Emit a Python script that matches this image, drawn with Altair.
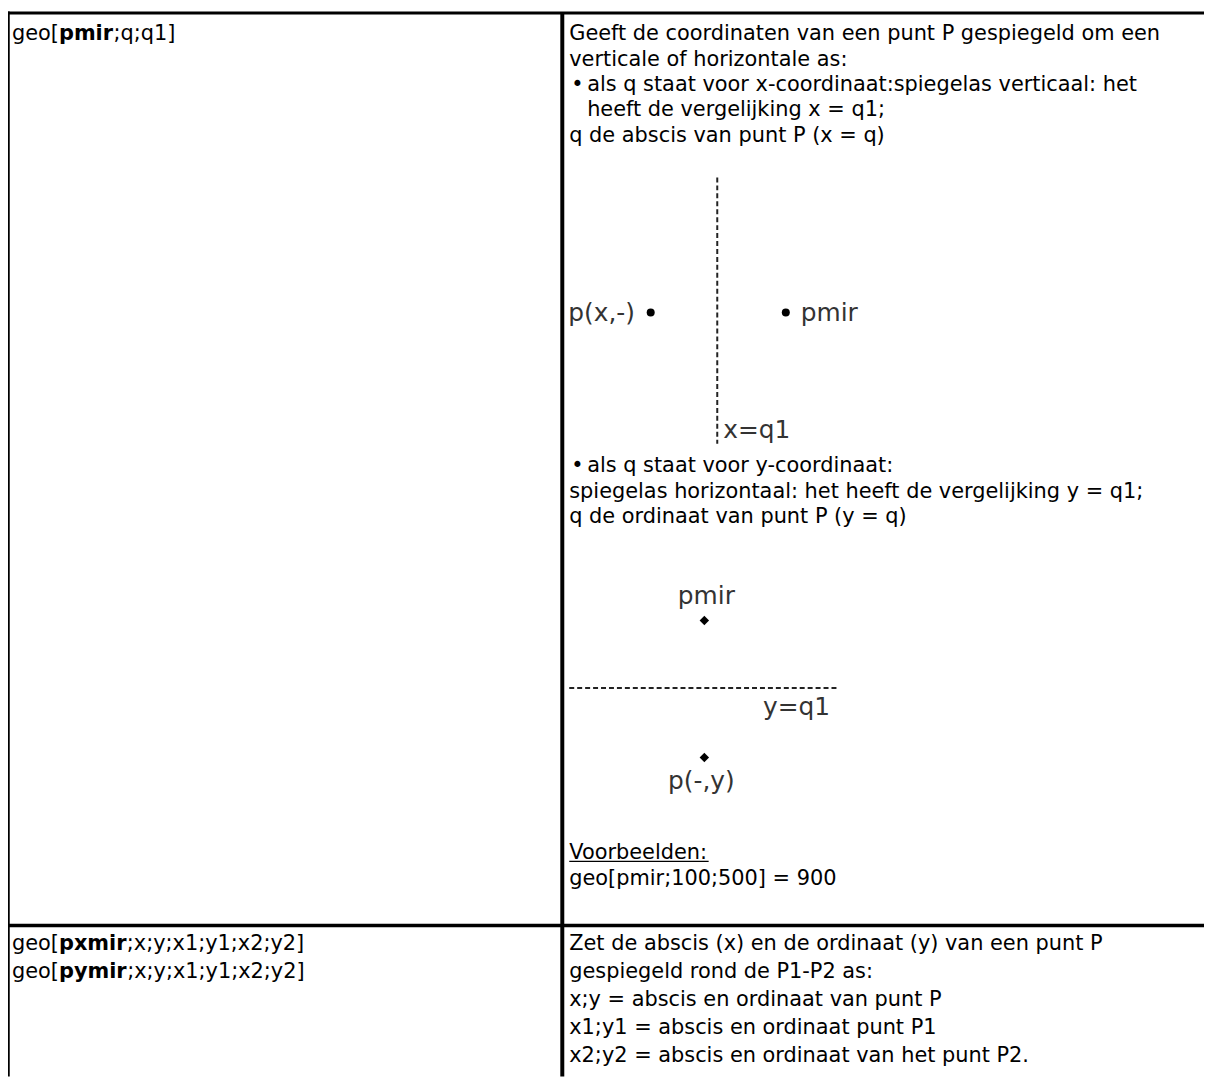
import altair as alt
import pandas as pd

# ---------------- content (text of the table) ----------------
left_row1 = [("geo[", "pmir", ";q;q1]")]
left_row2 = [("geo[", "pxmir", ";x;y;x1;y1;x2;y2]"),
             ("geo[", "pymir", ";x;y;x1;y1;x2;y2]")]

r1_intro = ["Geeft de coordinaten van een punt P gespiegeld om een",
            "verticale of horizontale as:"]
r1_bullet1 = ["als q staat voor x-coordinaat:spiegelas verticaal: het",
              "heeft de vergelijking x = q1;"]
r1_after1 = ["q de abscis van punt P (x = q)"]
r1_bullet2 = ["als q staat voor y-coordinaat:"]
r1_after2 = ["spiegelas horizontaal: het heeft de vergelijking y = q1;",
             "q de ordinaat van punt P (y = q)"]
example_head = "Voorbeelden:"
example_lines = ["geo[pmir;100;500] = 900"]

r2_lines = ["Zet de abscis (x) en de ordinaat (y) van een punt P",
            "gespiegeld rond de P1-P2 as:",
            "x;y = abscis en ordinaat van punt P",
            "x1;y1 = abscis en ordinaat punt P1",
            "x2;y2 = abscis en ordinaat van het punt P2."]

diag1_labels = ["p(x,-)", "pmir", "x=q1"]
diag2_labels = ["pmir", "y=q1", "p(-,y)"]

# ---------------- layout (page pixels) ----------------
W, H = 1212, 1080
FS = 21            # body font size
DFS = 25           # diagram font size
LH1 = 25.5         # line height, first row
LH2 = 28           # line height, second row
TOP = 9.5
LEFT_X = 8.5
COL_X = 566
ROW_Y = 928
LX = 12            # left column text start
RX = 573           # right column text start
BX = 575           # bullet x
IX = 591           # indented text x

# DejaVu Sans advance widths (units per 2048 em) for segment placement
REG = {'g': 1300, 'e': 1260, 'o': 1253, '[': 799, 'V': 1401, 'r': 842,
       'b': 1300, 'l': 569, 'd': 1300, 'n': 1298, ':': 690}
BOLD = {'p': 1466, 'm': 2134, 'i': 702, 'r': 1010, 'x': 1300, 'y': 1335}


def tw(s, table, size):
    return sum(table[c] for c in s) / 2048 * size


reg_rows, bold_rows = [], []


def add_seg_line(segs, x0, y):
    pre, bold, post = segs
    w1 = tw(pre, REG, FS)
    w2 = tw(bold, BOLD, FS)
    reg_rows.append({"x": x0, "y": y, "t": pre})
    bold_rows.append({"x": x0 + w1, "y": y, "t": bold})
    reg_rows.append({"x": x0 + w1 + w2 + 0.5, "y": y, "t": post})


# left column
base1 = 37
for i, segs in enumerate(left_row1):
    add_seg_line(segs, LX, base1 + i * LH1)
base2 = 953
for i, segs in enumerate(left_row2):
    add_seg_line(segs, LX, base2 + i * LH2)

# right column, row 1
y = base1
for t in r1_intro:
    reg_rows.append({"x": RX, "y": y, "t": t}); y += LH1
reg_rows.append({"x": BX, "y": y, "t": "\u2022"})
for t in r1_bullet1:
    reg_rows.append({"x": IX, "y": y, "t": t}); y += LH1
for t in r1_after1:
    reg_rows.append({"x": RX, "y": y, "t": t}); y += LH1

y = 472
reg_rows.append({"x": BX, "y": y, "t": "\u2022"})
for t in r1_bullet2:
    reg_rows.append({"x": IX, "y": y, "t": t}); y += LH1
for t in r1_after2:
    reg_rows.append({"x": RX, "y": y, "t": t}); y += LH1

ex_y = 861
reg_rows.append({"x": RX, "y": ex_y, "t": example_head})
for i, t in enumerate(example_lines):
    reg_rows.append({"x": RX, "y": ex_y + (i + 1) * 26, "t": t})

# right column, row 2
for i, t in enumerate(r2_lines):
    reg_rows.append({"x": RX, "y": base2 + i * LH2, "t": t})

reg_df = pd.DataFrame(reg_rows)
bold_df = pd.DataFrame(bold_rows)

# diagram labels
diag_df = pd.DataFrame([
    {"x": 572, "y": 320, "t": diag1_labels[0], "a": "left"},
    {"x": 806, "y": 320, "t": diag1_labels[1], "a": "left"},
    {"x": 728, "y": 437, "t": diag1_labels[2], "a": "left"},
    {"x": 711, "y": 604, "t": diag2_labels[0], "a": "center"},
    {"x": 768, "y": 716, "t": diag2_labels[1], "a": "left"},
    {"x": 706, "y": 791, "t": diag2_labels[2], "a": "center"},
])
diag_left = diag_df[diag_df.a == "left"]
diag_center = diag_df[diag_df.a == "center"]

circ_df = pd.DataFrame({"x": [655, 791], "y": [311, 311]})
diam_df = pd.DataFrame({"x": [709, 709], "y": [621, 759]})

# table borders
border_df = pd.DataFrame([
    {"x": 8, "x2": W, "y": TOP, "y2": TOP, "w": 3},
    {"x": LEFT_X, "x2": LEFT_X, "y": 8, "y2": H, "w": 2.5},
    {"x": COL_X, "x2": COL_X, "y": TOP, "y2": H, "w": 4},
    {"x": 8, "x2": W, "y": ROW_Y, "y2": ROW_Y, "w": 3.5},
    {"x": RX, "x2": RX + tw(example_head, REG, FS), "y": ex_y + 2.5,
     "y2": ex_y + 2.5, "w": 1.2},
])

dash_df = pd.DataFrame([
    {"x": 722, "x2": 722, "y": 175, "y2": 443},
    {"x": 573, "x2": 843, "y": 689, "y2": 689},
])

xs = alt.Scale(domain=[8, W], nice=False, zero=False)
ys = alt.Scale(domain=[8, H], nice=False, zero=False, reverse=True)
X = alt.X("x:Q", scale=xs, axis=None)
Y = alt.Y("y:Q", scale=ys, axis=None)

borders = alt.Chart(border_df).mark_rule(color="black").encode(
    x=X, x2="x2:Q", y=Y, y2="y2:Q",
    strokeWidth=alt.StrokeWidth("w:Q", scale=None))

dashes = alt.Chart(dash_df).mark_rule(color="#222222", strokeWidth=2,
                                      strokeDash=[5, 3]).encode(
    x=X, x2="x2:Q", y=Y, y2="y2:Q")

reg_text = alt.Chart(reg_df).mark_text(
    align="left", baseline="alphabetic", font="DejaVu Sans",
    fontSize=FS, color="black").encode(x=X, y=Y, text="t:N")

bold_text = alt.Chart(bold_df).mark_text(
    align="left", baseline="alphabetic", font="DejaVu Sans",
    fontSize=FS, fontWeight="bold", color="black").encode(x=X, y=Y, text="t:N")

dl = alt.Chart(diag_left).mark_text(
    align="left", baseline="alphabetic", font="DejaVu Sans",
    fontSize=DFS, color="#333333").encode(x=X, y=Y, text="t:N")
dc = alt.Chart(diag_center).mark_text(
    align="center", baseline="alphabetic", font="DejaVu Sans",
    fontSize=DFS, color="#333333").encode(x=X, y=Y, text="t:N")

circles = alt.Chart(circ_df).mark_point(
    filled=True, shape="circle", size=65, color="black", opacity=1).encode(x=X, y=Y)
diamonds = alt.Chart(diam_df).mark_point(
    filled=True, shape="diamond", size=90, color="black", opacity=1).encode(x=X, y=Y)

chart = alt.layer(borders, dashes, reg_text, bold_text, dl, dc, circles, diamonds).properties(
    width=W - 8, height=H - 8, padding=0, background="white", autosize="none"
).configure_view(stroke=None)

chart.save("out.html", embed_options={"renderer": "svg", "actions": False})
